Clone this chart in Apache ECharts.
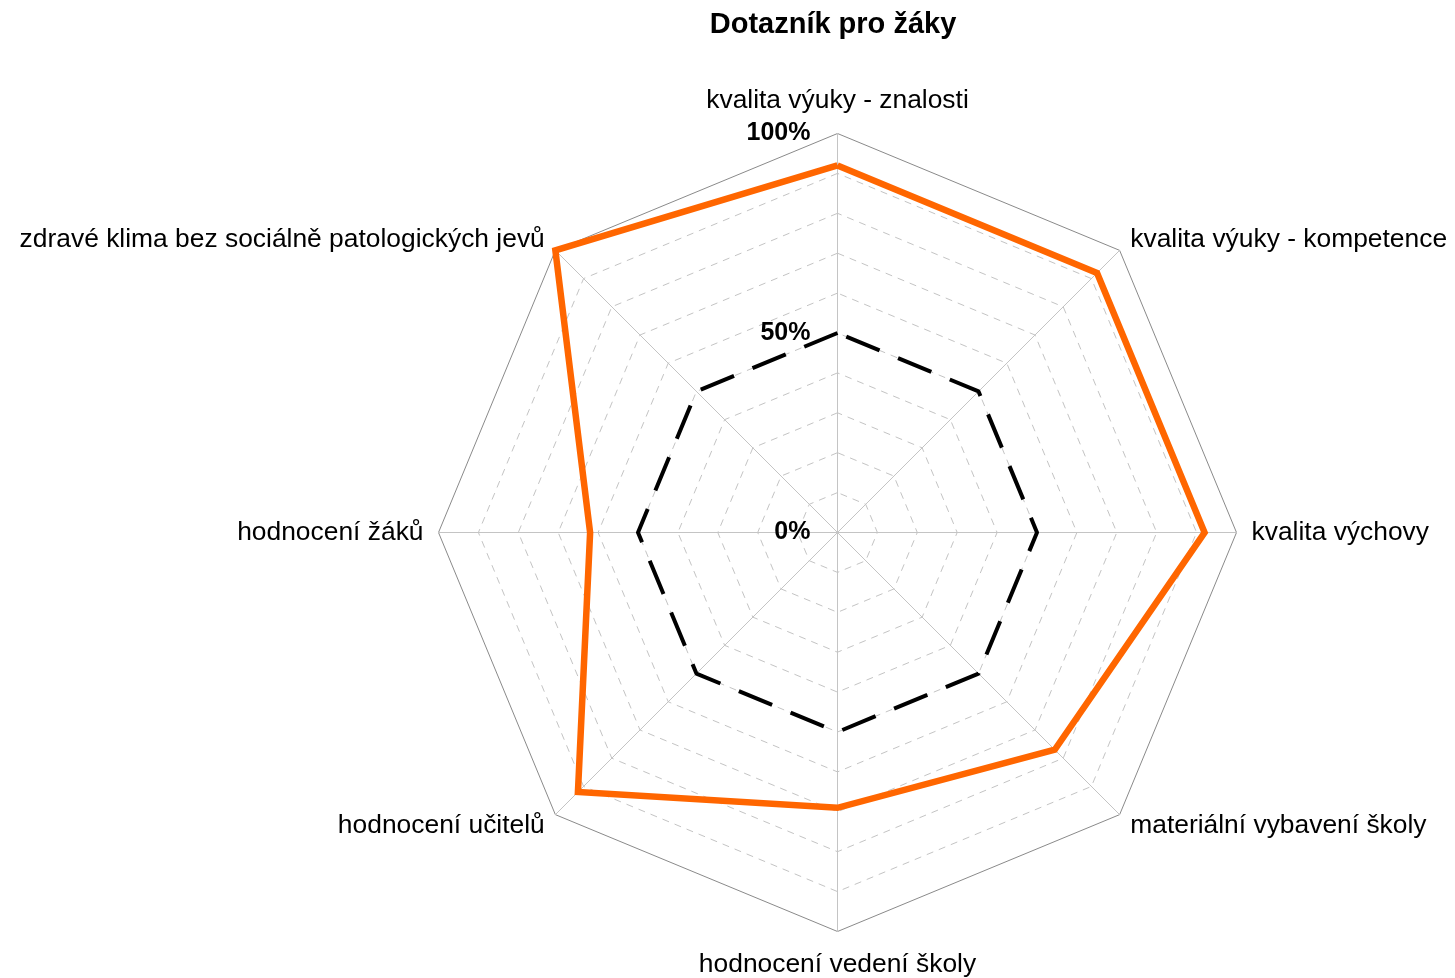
<!DOCTYPE html>
<html>
<head>
<meta charset="utf-8">
<title>Dotazník pro žáky</title>
<script src="https://cdn.jsdelivr.net/npm/echarts@6/dist/echarts.min.js"></script>
<style>
  html, body { margin: 0; padding: 0; background: #ffffff; }
  #chart { width: 1455px; height: 978px; }
</style>
</head>
<body>
<div id="chart"></div>
<script>
// Radar axes, listed from the top spoke going counter-clockwise (ECharts' radar order)
const categories = [
  'kvalita výuky - znalosti',
  'zdravé klima bez sociálně patologických jevů',
  'hodnocení žáků',
  'hodnocení učitelů',
  'hodnocení vedení školy',
  'materiální vybavení školy',
  'kvalita výchovy',
  'kvalita výuky - kompetence'
];

// Survey results in percent, same order as categories
const resultValues = [92, 100, 62, 92, 69, 77, 92, 92];

// Reference level drawn as the black dashed octagon
const referenceValues = [50, 50, 50, 50, 50, 50, 50, 50];

// Percent ticks that carry a label on the top spoke
const tickLabels = [0, 50, 100];

const axisMax = 100;
const FONT = '"Liberation Sans", Arial, Helvetica, sans-serif';

const chart = echarts.init(document.getElementById('chart'), null, { renderer: 'canvas' });

const center = [837.5, 532.5];
const radius = 399;

// inner rings dashed; the outermost one is drawn solid by the second radar
const ringColors = [];
for (let i = 0; i < 10; i++) ringColors.push('#c4c4c4');
ringColors.push('rgba(0,0,0,0)');

const mainIndicators = categories.map(function (name, i) {
  const ind = { name: name, min: 0, max: axisMax };
  if (i === 0) {
    ind.axisLabel = {
      show: true,
      margin: 27,
      color: '#000',
      fontFamily: FONT,
      fontWeight: 'bold',
      fontSize: 25,
      formatter: function (v) {
        return tickLabels.indexOf(v) >= 0 ? v + '%' : '';
      }
    };
  }
  return ind;
});

const frameIndicators = categories.map(function () {
  return { name: '', min: 0, max: axisMax };
});

chart.setOption({
  backgroundColor: '#ffffff',
  animation: false,
  title: {
    text: 'Dotazník pro žáky',
    left: 828,
    top: 5,
    textAlign: 'center',
    textStyle: {
      fontFamily: FONT,
      fontWeight: 'bold',
      fontSize: 29,
      color: '#000'
    }
  },
  radar: [
    {
      center: center,
      radius: radius,
      startAngle: 90,
      splitNumber: 10,
      shape: 'polygon',
      nameGap: 15,
      axisName: {
        color: '#000',
        fontFamily: FONT,
        fontSize: 26.4,
        lineHeight: 36
      },
      axisLine: { show: true, lineStyle: { color: '#c4c4c4', width: 1 } },
      axisTick: { show: false },
      splitLine: {
        show: true,
        lineStyle: { color: ringColors, width: 1, type: [7, 6] }
      },
      splitArea: { show: false },
      indicator: mainIndicators
    },
    {
      center: center,
      radius: radius,
      startAngle: 90,
      splitNumber: 1,
      shape: 'polygon',
      axisName: { show: false },
      axisLine: { show: false },
      axisTick: { show: false },
      axisLabel: { show: false },
      splitLine: { show: true, lineStyle: { color: '#8a8a8a', width: 1 } },
      splitArea: { show: false },
      indicator: frameIndicators
    }
  ],
  series: [
    {
      type: 'radar',
      radarIndex: 0,
      symbol: 'none',
      silent: true,
      z: 3,
      data: [
        {
          value: referenceValues,
          name: 'reference',
          lineStyle: { color: '#000000', width: 4, type: [36, 20], cap: 'butt' }
        },
        {
          value: resultValues,
          name: 'výsledek',
          lineStyle: { color: '#ff6600', width: 6.5, join: 'miter' }
        }
      ]
    }
  ]
});
</script>
</body>
</html>
